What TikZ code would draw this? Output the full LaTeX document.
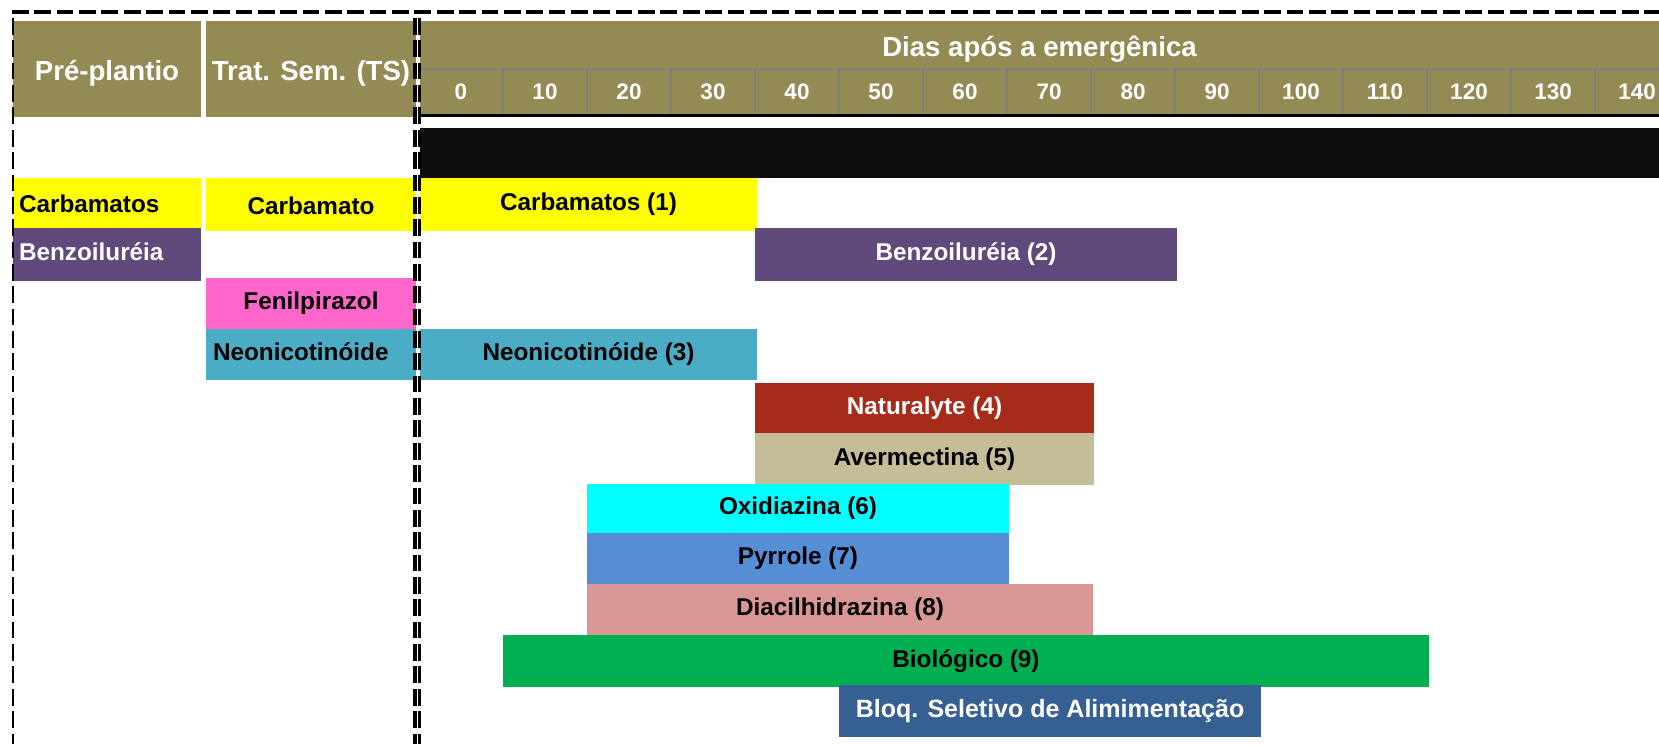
\documentclass[tikz,border=0pt]{standalone}
\usepackage{fontspec}
\setmainfont{Liberation Sans}
\definecolor{hdr}{HTML}{948A54}
\definecolor{cyel}{HTML}{FFFF00}
\definecolor{cbenz}{HTML}{604A7B}
\definecolor{cfenil}{HTML}{FF66CC}
\definecolor{cneo}{HTML}{4BACC6}
\definecolor{cnat}{HTML}{A62B1A}
\definecolor{caver}{HTML}{C4BD97}
\definecolor{coxi}{HTML}{00FFFF}
\definecolor{cpyr}{HTML}{558ED5}
\definecolor{cdiac}{HTML}{D99694}
\definecolor{cbio}{HTML}{00B050}
\definecolor{cbloq}{HTML}{366092}
\definecolor{cblack}{HTML}{0D0D0D}
\definecolor{csep}{HTML}{7F7F7F}
\begin{document}
\begin{tikzpicture}[x=1pt,y=-1pt,
  cell/.style={rectangle, inner sep=0pt, outer sep=0pt, anchor=north west},
  lbl/.style={cell, text=black, font=\bfseries\fontsize{24.3}{28}\selectfont, text height=17.4pt, text depth=5pt},
  lbllow/.style={lbl, text height=19.4pt, text depth=0pt},
  hdrbox/.style={cell, fill=hdr, text=white, font=\bfseries\fontsize{27.6}{32}\selectfont, text height=22pt, text depth=0pt},
  tick/.style={cell, text=white, font=\bfseries\fontsize{22.5}{26}\selectfont, text height=16.1pt, text depth=0pt},
  framedash/.style={black, dash pattern=on 16.7pt off 5.66pt},
]
\useasboundingbox[fill=white] (0,0) rectangle (1659,744);

% header
\node[hdrbox, minimum width=188pt, minimum height=96pt] (pre) at (13,21) {Pré-plantio};
\node[hdrbox, minimum width=210pt, minimum height=96pt] (ts) at (206,21) {Trat. Sem. (TS)};
\node[hdrbox, text height=23.8pt, minimum width=1239pt, minimum height=48pt] (days) at (420,21) {Dias após a emergênica};
\node[cell, fill=hdr, minimum width=1239pt, minimum height=45pt] (tickrow) at (420,69) {};
\foreach \k [evaluate=\k as \v using int(10*\k)] in {0,...,14}
  \node[tick, minimum width=84pt, minimum height=45pt] (t\k) at ({419+84*\k},69) {\v};
\draw[csep, line width=2pt] (days.south west) -- (days.south east);
\foreach \k in {1,...,14}
  \draw[csep, line width=1.5pt] (t\k.north west) -- (t\k.south west);
\draw[black, line width=3pt] ([yshift=-1.4pt]tickrow.south west) -- ([yshift=-1.4pt]tickrow.south east);

% crop cycle bar
\node[cell, fill=cblack, minimum width=1239pt, minimum height=50pt] (cycle) at (420,128) {};

% pre-planting column
\node[lbllow, fill=cyel, minimum height=50pt, text width=176pt, inner xsep=6pt, align=left] (pcarb) at (13,178) {Carbamatos};
\node[lbl, fill=cbenz, text=white, minimum height=53pt, text width=176pt, inner xsep=6pt, align=left] (pbenz) at (13,228) {Benzoiluréia};

% seed treatment column
\node[lbllow, fill=cyel, minimum width=210pt, minimum height=53pt] (tcarb) at (206,178) {Carbamato};
\node[lbl, fill=cfenil, minimum width=210pt, minimum height=51pt] (tfenil) at (206,278) {Fenilpirazol};
\node[lbl, fill=cneo, minimum height=51pt, text width=196pt, inner xsep=7pt, align=left] (tneo) at (206,329) {Neonicotinóide};

% day bars
\node[lbl, fill=cyel, minimum width=337pt, minimum height=53pt] (carb1) at (420,178) {Carbamatos (1)};
\node[lbl, fill=cbenz, text=white, minimum width=422pt, minimum height=53pt] (benz2) at (755,228) {Benzoiluréia (2)};
\node[lbl, fill=cneo, minimum width=337pt, minimum height=51pt] (neo3) at (420,329) {Neonicotinóide (3)};
\node[lbl, fill=cnat, text=white, minimum width=339pt, minimum height=50pt] (nat4) at (755,383) {Naturalyte (4)};
\node[lbl, fill=caver, minimum width=339pt, minimum height=52pt] (aver5) at (755,433) {Avermectina (5)};
\node[lbl, fill=coxi, minimum width=422pt, minimum height=49pt] (oxi6) at (587,484) {Oxidiazina (6)};
\node[lbl, fill=cpyr, minimum width=422pt, minimum height=51pt] (pyr7) at (587,533) {Pyrrole (7)};
\node[lbl, fill=cdiac, minimum width=506pt, minimum height=51pt] (diac8) at (587,584) {Diacilhidrazina (8)};
\node[lbl, fill=cbio, minimum width=926pt, minimum height=52pt] (bio9) at (503,635) {Biológico (9)};
\node[lbl, fill=cbloq, text=white, font=\bfseries\fontsize{25}{29}\selectfont, minimum width=422pt, minimum height=52pt] (bloq) at (839,685) {Bloq. Seletivo de Alimimentação};

% dashed frame lines
\draw[framedash, line width=3.3pt] (12,12) -- (1659,12);
\draw[framedash, line width=2.3pt] (13,18) -- (13,744);
\draw[framedash, line width=4pt] (414.7,18) -- (414.7,744);
\draw[framedash, line width=2.7pt] (419.4,18) -- (419.4,744);
\end{tikzpicture}
\end{document}
